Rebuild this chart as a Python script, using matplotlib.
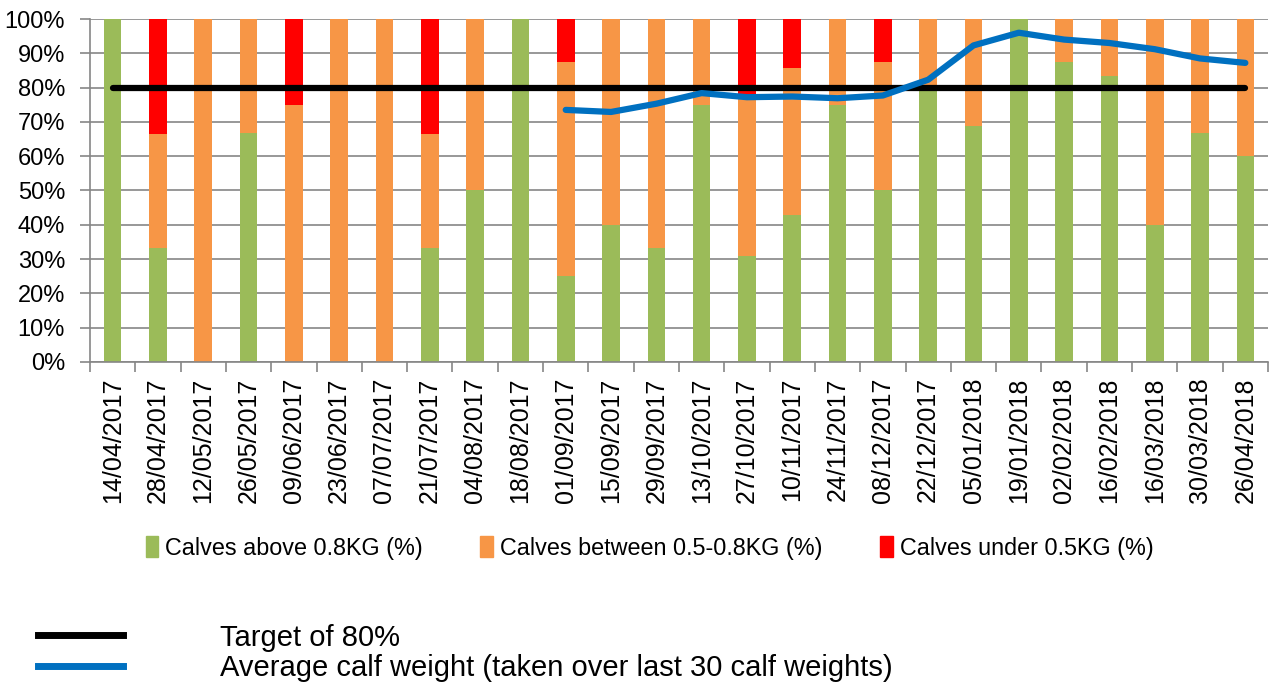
import matplotlib.pyplot as plt
import numpy as np
from matplotlib.lines import Line2D
from matplotlib.patches import Patch

plt.rcParams['font.family'] = ['Liberation Sans', 'DejaVu Sans']

dates = ['14/04/2017', '28/04/2017', '12/05/2017', '26/05/2017', '09/06/2017',
         '23/06/2017', '07/07/2017', '21/07/2017', '04/08/2017', '18/08/2017',
         '01/09/2017', '15/09/2017', '29/09/2017', '13/10/2017', '27/10/2017',
         '10/11/2017', '24/11/2017', '08/12/2017', '22/12/2017', '05/01/2018',
         '19/01/2018', '02/02/2018', '16/02/2018', '16/03/2018', '30/03/2018',
         '26/04/2018']
above = [100, 33.3, 0, 66.7, 0, 0, 0, 33.3, 50, 100,
         25, 40, 33.3, 75, 30.8, 42.9, 75, 50, 80, 68.8,
         100, 87.5, 83.3, 40, 66.7, 60]
between = [0, 33.3, 100, 33.3, 75, 100, 100, 33.3, 50, 0,
           62.5, 60, 66.7, 25, 46.2, 42.8, 25, 37.5, 20, 31.2,
           0, 12.5, 16.7, 60, 33.3, 40]
under = [0, 33.4, 0, 0, 25, 0, 0, 33.4, 0, 0,
         12.5, 0, 0, 0, 23.0, 14.3, 0, 12.5, 0, 0,
         0, 0, 0, 0, 0, 0]
target = [80] * len(dates)
# average weight line only starts at 01/09/2017
avg_weight = [np.nan] * 10 + [73.5, 72.9, 75.3, 78.4, 77.2, 77.4, 76.9, 77.7,
                              82.3, 92.3, 96.0, 94.0, 93.0, 91.2, 88.5, 87.2]

green = '#9BBB59'
orange = '#F79646'
red = '#FF0000'
blue = '#0070C0'
grid = '#868686'

fig = plt.figure(figsize=(12.71, 6.91), dpi=100)
ax = fig.add_axes([90 / 1271, 1 - 362 / 691, 1178 / 1271, 343 / 691])

x = np.arange(len(dates))
above = np.array(above)
between = np.array(between)
under = np.array(under)
w = 0.39
ax.bar(x, above, w, color=green, zorder=2)
ax.bar(x, between, w, bottom=above, color=orange, zorder=2)
ax.bar(x, under, w, bottom=above + between, color=red, zorder=2)

ax.plot(x, target, color='black', lw=4.5, solid_capstyle='round', zorder=3)
ax.plot(x, avg_weight, color=blue, lw=4.5, solid_capstyle='round',
        solid_joinstyle='round', zorder=4)

ax.set_xlim(-0.5, len(dates) - 0.5)
ax.set_ylim(0, 100)
ax.set_yticks(np.arange(0, 101, 10))
ax.set_yticklabels([f'{v}%' for v in range(0, 101, 10)], fontsize=17)
ax.set_xticks(x)
ax.set_xticklabels(dates, rotation=90, fontsize=18)
ax.set_xticks(np.arange(-0.5, len(dates), 1), minor=True)
ax.tick_params(axis='x', which='major', length=0, pad=11)
ax.tick_params(axis='x', which='minor', length=7, color=grid, width=1.2)
ax.tick_params(axis='y', length=7, color=grid, width=1.2, pad=11)
ax.yaxis.grid(True, color=grid, lw=1.2, zorder=0)
ax.set_axisbelow(True)
for s in ['top', 'right']:
    ax.spines[s].set_visible(False)
for s in ['left', 'bottom']:
    ax.spines[s].set_color(grid)
    ax.spines[s].set_linewidth(1.2)

h1 = [Patch(color=green), Patch(color=orange), Patch(color=red)]
l1 = ['Calves above 0.8KG (%)', 'Calves between 0.5-0.8KG (%)', 'Calves under 0.5KG (%)']
fig.legend(h1, l1, loc='center', bbox_to_anchor=(0.511, 1 - 548 / 691), ncol=3,
           frameon=False, fontsize=16.8, handlelength=0.55, handleheight=1.0,
           handletextpad=0.3, columnspacing=2.45)

h2 = [Line2D([], [], color='black', lw=5), Line2D([], [], color=blue, lw=5)]
l2 = ['Target of 80%', 'Average calf weight (taken over last 30 calf weights)']
fig.legend(h2, l2, loc='center left', bbox_to_anchor=(38 / 1271, 1 - 653 / 691),
           frameon=False, fontsize=21, handlelength=2.9, handletextpad=3.35,
           labelspacing=0.1, borderpad=0, borderaxespad=0)

fig.savefig('out.png', dpi=100)
